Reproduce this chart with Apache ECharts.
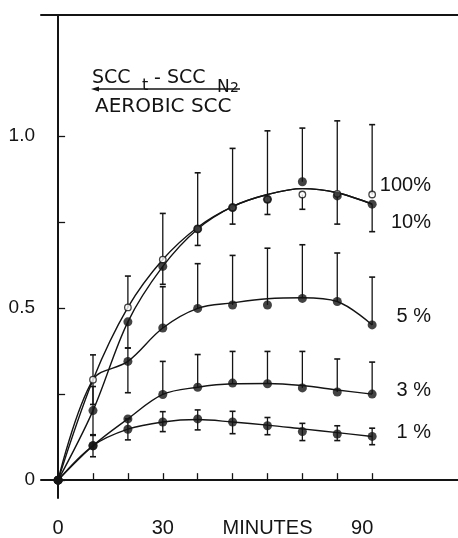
<!DOCTYPE html>
<html>
<head>
<meta charset="utf-8">
<script src="https://cdn.jsdelivr.net/npm/echarts@6/dist/echarts.min.js"></script>
<style>html,body{margin:0;padding:0;background:#fff}#c{width:458px;height:538px}</style>
</head>
<body>
<div id="c"></div>
<script>
// Time points (minutes)
const minutes = [0,10,20,30,40,50,60,70,80,90];
// Measured points per O2 level
const p100 = [0,0.292,0.502,0.641,0.730,0.792,0.816,0.830,0.832,0.830];
const p10  = [0,0.202,0.460,0.621,0.730,0.792,0.816,0.867,0.826,0.802];
const p5   = [0,0.292,0.345,0.442,0.499,0.509,0.509,0.528,0.519,0.451];
const p3   = [0,0.100,0.178,0.249,0.270,0.282,0.280,0.268,0.256,0.250];
const p1   = [0,0.100,0.148,0.169,0.178,0.169,0.158,0.141,0.134,0.127];
// Error bar extents (low / high)
const lo100 = [0,0.220,0.502,0.641,0.730,0.792,0.816,0.787,0.832,0.830];
const hi100 = [0,0.364,0.593,0.775,0.730,0.792,0.816,0.830,0.832,1.033];
const lo10  = [0,0.132,0.384,0.569,0.682,0.744,0.772,0.867,0.744,0.722];
const hi10  = [0,0.272,0.460,0.621,0.893,0.964,1.015,1.023,1.044,0.802];
const lo5   = [0,0.292,0.254,0.442,0.499,0.509,0.509,0.528,0.519,0.451];
const hi5   = [0,0.292,0.384,0.562,0.629,0.653,0.674,0.684,0.660,0.590];
const lo3   = [0,0.100,0.178,0.249,0.270,0.282,0.280,0.268,0.256,0.250];
const hi3   = [0,0.100,0.178,0.345,0.365,0.374,0.374,0.374,0.352,0.343];
const lo1   = [0,0.068,0.117,0.141,0.146,0.135,0.132,0.115,0.115,0.103];
const hi1   = [0,0.130,0.178,0.199,0.204,0.200,0.182,0.165,0.158,0.151];
// Hand-drawn fitted curves
const c100 = [0,0.292,0.502,0.641,0.735,0.795,0.830,0.847,0.835,0.802];
const c10  = [0,0.202,0.460,0.621,0.730,0.795,0.830,0.847,0.835,0.802];
const c5   = [0,0.292,0.345,0.442,0.499,0.515,0.527,0.530,0.519,0.451];
const c3   = [0,0.100,0.178,0.249,0.270,0.280,0.281,0.275,0.262,0.250];
const c1   = [0,0.100,0.148,0.169,0.176,0.169,0.160,0.149,0.138,0.127];
// Tick labels
const xTicks = [0,10,20,30,40,50,60,70,80,90];
const xLabels = {0:'0',30:'30',60:'MINUTES',90:'{s|90}'};
const yTicks = [0,0.25,0.5,0.75,1.0];
const yLabels = {0:'0',0.5:'0.5',1:'1.0'};
const seriesLabels = ['100%','10%','5 %','3 %','1 %'];

const INK = '#141414';
const FONT = '"Liberation Sans", "DejaVu Sans", sans-serif';
const TFONT = '"DejaVu Sans", sans-serif';

function curve(vals){
  return {type:'line', data: minutes.map((m,i)=>[m,vals[i]]), smooth:0.35, showSymbol:false,
    lineStyle:{color:INK,width:1.4}, silent:true, z:2};
}
function errBars(p,lo,hi){
  return {type:'custom', silent:true, z:3,
    data: minutes.map((m,i)=>[m,p[i],lo[i],hi[i]]),
    renderItem:(params,api)=>{
      const x=api.value(0), v=api.value(1), l=api.value(2), h=api.value(3);
      if(h-l<=1e-6) return null;
      const top=api.coord([x,h]), bot=api.coord([x,l]);
      const ch=[{type:'line',shape:{x1:top[0],y1:top[1],x2:bot[0],y2:bot[1]},style:{stroke:INK,lineWidth:1.3}}];
      if(h>v) ch.push({type:'line',shape:{x1:top[0]-3,y1:top[1],x2:top[0]+3,y2:top[1]},style:{stroke:INK,lineWidth:1.6}});
      if(l<v) ch.push({type:'line',shape:{x1:bot[0]-3,y1:bot[1],x2:bot[0]+3,y2:bot[1]},style:{stroke:INK,lineWidth:1.6}});
      return {type:'group',children:ch};
    }};
}
function dots(vals, open, hideIdx){
  return {type:'scatter', silent:true, z: open?4:5,
    data: minutes.map((m,i)=> (hideIdx && hideIdx.indexOf(i)>=0) ? {value:[m,vals[i]],symbol:'none'} : [m,vals[i]]),
    symbol:'circle', symbolSize: open?6.5:9,
    itemStyle: open ? {color:'#fff',borderColor:INK,borderWidth:1.3} : {color:INK}};
}

const chart = echarts.init(document.getElementById('c'), null, {renderer:'canvas'});
const txt = (t,x,y,size,align,fam)=>({type:'text',silent:true,style:{text:t,x:x,y:y,font:size+'px '+(fam||FONT),fill:INK,align:align||'left',verticalAlign:'middle'}});

chart.setOption({
  backgroundColor:'#fff',
  animation:false,
  grid:{left:41,right:0,top:15,bottom:36,containLabel:false},
  xAxis:[{type:'value',min:-4.9,max:114.6,position:'bottom',
    axisLine:{show:true,lineStyle:{color:INK,width:2}},
    axisTick:{show:true,inside:true,length:7,customValues:xTicks,lineStyle:{color:INK,width:1.3}},
    axisLabel:{show:true,customValues:[0,30,60,90],formatter:v=>xLabels[v]||'',margin:20,
      fontSize:20,fontFamily:FONT,color:INK,
      rich:{s:{fontSize:20,fontFamily:FONT,color:INK,padding:[0,20,0,0]}}},
    splitLine:{show:false}},
    {type:'value',min:-4.9,max:114.6,position:'top',
    axisLine:{show:true,lineStyle:{color:INK,width:2}},axisTick:{show:false},axisLabel:{show:false},splitLine:{show:false}}],
  yAxis:{type:'value',min:-0.0519,max:1.3516,
    axisLine:{show:true,lineStyle:{color:INK,width:2}},
    axisTick:{show:true,inside:true,length:7,customValues:yTicks,lineStyle:{color:INK,width:1.3}},
    axisLabel:{show:true,customValues:[0,0.5,1],formatter:v=>yLabels[v]||'',margin:6,
      fontSize:19,fontFamily:FONT,color:INK},
    splitLine:{show:false}},
  series:[
    curve(c100),curve(c10),curve(c5),curve(c3),curve(c1),
    errBars(p100,lo100,hi100),errBars(p10,lo10,hi10),errBars(p5,lo5,hi5),errBars(p3,lo3,hi3),errBars(p1,lo1,hi1),
    dots(p5,false,[1]),dots(p3,false),dots(p1,false),
    dots(p100,true),dots(p10,false)
  ],
  graphic:[
    txt('SCC',92,78,19,'left',TFONT),
    txt('t',142,86,16,'left',TFONT),
    txt('-',154,79,19,'left',TFONT),
    txt('SCC',167,78,19,'left',TFONT),
    txt('N',217,88,17,'left',TFONT),
    txt('2',230,88,14,'left',TFONT),
    {type:'line',silent:true,shape:{x1:96,y1:89,x2:240,y2:89},style:{stroke:INK,lineWidth:1.5}},
    {type:'polygon',silent:true,shape:{points:[[91,89],[99,86.5],[99,91.5]]},style:{fill:INK}},
    txt('AEROBIC SCC',95,107,20,'left',TFONT),
    txt(seriesLabels[0],431,185,20,'right'),
    txt(seriesLabels[1],431,222,20,'right'),
    txt(seriesLabels[2],431,316,20,'right'),
    txt(seriesLabels[3],431,390,20,'right'),
    txt(seriesLabels[4],431,432,20,'right')
  ]
});
</script>
</body>
</html>
